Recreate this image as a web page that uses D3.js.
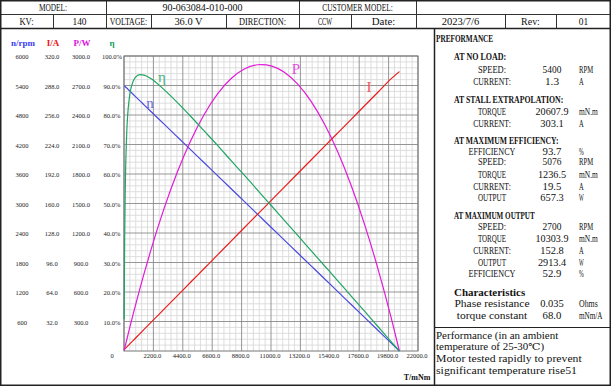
<!DOCTYPE html>
<html><head><meta charset="utf-8">
<script src="https://cdn.jsdelivr.net/npm/d3@7"></script>
<style>html,body{margin:0;padding:0;background:#fff;}svg{display:block;}</style>
</head><body><svg id="c" width="611" height="386"></svg>
<script>
// ---------------- data ----------------
const torque  = [10,50,100,200,400,700,1000,1236.5,1500,2000,3000,4000,5000,6000,7000,8000,9000,10000,10303.9,11000,12000,13000,14000,15000,16000,17000,18000,19000,20000,20607.9];
const speed   = [5397,5387,5374,5348,5295,5217,5138,5076,5007,4876,4614,4352,4090,3828,3566,3304,3042,2780,2700,2518,2256,1994,1732,1470,1207,945,683,421,159,0];
const current = [1.4,2.0,2.8,4.2,7.2,11.6,16.0,19.5,23.4,30.7,45.4,60.1,74.8,89.5,104.2,119.0,133.7,148.4,152.8,163.1,177.8,192.5,207.2,221.9,236.6,251.3,266.0,280.7,295.4,303.1];
const power   = [5.7,28,56,112,222,382,538,657,786,1021,1450,1823,2141,2405,2614,2768,2867,2911,2913,2900,2835,2714,2539,2308,2023,1683,1288,838,334,0];
const effic   = [10.8,38.5,56.4,73.4,85.8,91.6,93.4,93.7,93.5,92.4,88.6,84.2,79.5,74.6,69.7,64.6,59.6,54.5,52.9,49.4,44.3,39.2,34.0,28.9,23.8,18.6,13.5,8.3,3.1,0];

const xTicks   = [0,2200,4400,6600,8800,11000,13200,15400,17600,19800,22000];
const speedTicks = [600,1200,1800,2400,3000,3600,4200,4800,5400,6000];
const currTicks  = [32,64,96,128,160,192,224,256,288,320];
const powTicks   = [300,600,900,1200,1500,1800,2100,2400,2700,3000];
const effTicks   = [10,20,30,40,50,60,70,80,90,100];

const headRow1 = ["MODEL:","90-063084-010-000","CUSTOMER MODEL:",""];
const headRow2 = ["KV:","140","VOLTAGE:","36.0 V","DIRECTION:","CCW","Date:","2023/7/6","Rev:","01"];

const panelRows = [
  ["title","PREFORMANCE"],
  ["head","AT NO LOAD:"],
  ["row","SPEED:","5400","RPM"],
  ["row","CURRENT:","1.3","A"],
  ["head","AT STALL EXTRAPOLATION:"],
  ["row","TORQUE","20607.9","mN.m"],
  ["row","CURRENT:","303.1","A"],
  ["head","AT MAXIMUM EFFICIENCY:"],
  ["row","EFFICIENCY","93.7","%"],
  ["row","SPEED:","5076","RPM"],
  ["row","TORQUE","1236.5","mN.m"],
  ["row","CURRENT:","19.5","A"],
  ["row","OUTPUT","657.3","W"],
  ["head","AT MAXIMUM OUTPUT"],
  ["row","SPEED:","2700","RPM"],
  ["row","TORQUE","10303.9","mN.m"],
  ["row","CURRENT:","152.8","A"],
  ["row","OUTPUT","2913.4","W"],
  ["row","EFFICIENCY","52.9","%"],
  ["head","Characteristics"],
  ["row","Phase resistance","0.035","Ohms"],
  ["row","torque constant","68.0","mNm/A"]
];
const noteLines = ["Performance (in an ambient","temperature of 25-30\u2103)","Motor tested rapidly to prevent","significant temperature rise51"];

// ---------------- layout ----------------
const svg = d3.select("#c");
const SERIF = "'Liberation Serif','DejaVu Serif',serif";
const CW = 4.7; // half-width char advance
function clen(s){let n=0;for(const ch of s){n+= (ch.charCodeAt(0)>255)?2:1;}return n;}
function txt(x,y,s,o={}){
  const t = svg.append("text").attr("x",x).attr("y",y).text(s)
    .attr("font-family",o.family||SERIF).attr("font-size",o.size||9.5)
    .attr("font-weight",o.weight||"normal").attr("fill",o.fill||"#111")
    .attr("text-anchor",o.anchor||"start");
  if(o.fit){t.attr("textLength",clen(s)*(o.cw||CW)).attr("lengthAdjust","spacingAndGlyphs");}
  return t;
}
const line=(x1,y1,x2,y2,c,w)=>svg.append("line").attr("x1",x1).attr("y1",y1).attr("x2",x2).attr("y2",y2).attr("stroke",c).attr("stroke-width",w);

// header table
const r1 = [0,106,299,416,611], r2=[0,53,106,151,226,299,351,416,505,556,611];
const yA=0.5, yB=14.5, yC=28.5;
line(0,yB,611,yB,"#333",1); line(0,yC,611,yC,"#222",1.5);
r1.slice(1,-1).forEach(x=>line(x+0.5,yA,x+0.5,yB,"#333",1));
r2.slice(1,-1).forEach(x=>line(x+0.5,yB,x+0.5,yC,"#333",1));
headRow1.forEach((s,i)=>{ if(s) txt((r1[i]+r1[i+1])/2,11,s,{anchor:"middle",fit:true,size:9.5}); });
headRow2.forEach((s,i)=>{ txt((r2[i]+r2[i+1])/2,25,s,{anchor:"middle",fit:true,size:9.5}); });

// right panel
line(434.5,yC,434.5,386,"#222",1.5);
line(434,327.5,611,327.5,"#222",1);
const panelY=[38,56,69,81.5,99,111.6,123,140,151,161.7,174,186.7,197.7,215,226.7,238,250,262,273,292,303,315];
panelRows.forEach((r,i)=>{
  const y=panelY[i]+3.5;
  if(r[0]==="title") txt(436,y,r[1],{weight:"bold",fit:true,cw:5.2});
  else if(r[0]==="head") txt(454,y,r[1],{weight:"bold",fit:true,cw:4.75});
  else { txt(492,y,r[1],{anchor:"middle",fit:true});
         txt(552,y,r[2],{anchor:"middle",fit:true});
         txt(579,y,r[3],{fit:true}); }
});
const noteY=[335,346.5,358,370];
noteLines.forEach((s,i)=>txt(436,noteY[i]+3.5,s,{fit:true}));

// outer border
svg.append("rect").attr("x",0.75).attr("y",0.75).attr("width",609.5).attr("height",384.5)
  .attr("fill","none").attr("stroke","#222").attr("stroke-width",1.5);

// ---------------- chart ----------------
const L=124,R=418,T=56,B=351;
const x = d3.scaleLinear().domain([0,22000]).range([L,R]);
const yN = d3.scaleLinear().domain([0,6000]).range([B,T]);
const yI = d3.scaleLinear().domain([0,320]).range([B,T]);
const yP = d3.scaleLinear().domain([0,3000]).range([B,T]);
const yE = d3.scaleLinear().domain([0,100]).range([B,T]);

const grid = svg.append("g");
d3.range(0,22001,440).forEach(v=>{ if(v%2200!==0) grid.append("line").attr("x1",x(v)).attr("x2",x(v)).attr("y1",T).attr("y2",B).attr("stroke","#d6d6d6").attr("stroke-width",0.8);});
d3.range(0,6001,120).forEach(v=>{ if(v%600!==0) grid.append("line").attr("y1",yN(v)).attr("y2",yN(v)).attr("x1",L).attr("x2",R).attr("stroke","#d6d6d6").attr("stroke-width",0.8);});
xTicks.forEach(v=>grid.append("line").attr("x1",x(v)).attr("x2",x(v)).attr("y1",T).attr("y2",B).attr("stroke","#8a8a8a").attr("stroke-width",0.9));
speedTicks.forEach(v=>grid.append("line").attr("y1",yN(v)).attr("y2",yN(v)).attr("x1",L).attr("x2",R).attr("stroke","#8a8a8a").attr("stroke-width",0.9));
svg.append("rect").attr("x",L).attr("y",T).attr("width",R-L).attr("height",B-T).attr("fill","none").attr("stroke","#777").attr("stroke-width",1);

// axis labels
const TK={size:6.5,fill:"#222"};
xTicks.forEach((v,i)=>txt(i===0?112:x(v)-1,358,i===0?"0":d3.format(".1f")(v),{...TK,anchor:"middle"}));
speedTicks.forEach(v=>txt(22,yN(v)+3,String(v),{...TK,anchor:"middle"}));
currTicks.forEach(v=>txt(52,yI(v)+3,d3.format(".1f")(v),{...TK,anchor:"middle"}));
powTicks.forEach(v=>txt(81,yP(v)+3,d3.format(".1f")(v),{...TK,anchor:"middle"}));
effTicks.forEach(v=>txt(112,yE(v)+3,d3.format(".1f")(v)+"%",{...TK,anchor:"middle"}));
const HB={size:9,weight:"bold"};
txt(23,46,"n/rpm",{...HB,anchor:"middle",fill:"#3a3af0"});
txt(53,46,"I/A",{...HB,anchor:"middle",fill:"#f01010"});
txt(82,46,"P/W",{...HB,anchor:"middle",fill:"#e010e0"});
txt(112,46,"\u03b7",{...HB,anchor:"middle",fill:"#10a060"});
txt(417,380,"T/mNm",{size:8,weight:"bold",anchor:"middle"});

// curves
const mk = (ys,arr)=>d3.line().x((d,i)=>x(torque[i])).y((d,i)=>ys(arr[i])).curve(d3.curveMonotoneX)(arr);
svg.append("path").attr("d",mk(yN,speed)).attr("fill","none").attr("stroke","#4848e0").attr("stroke-width",1.2);
svg.append("path").attr("d",mk(yI,current)).attr("fill","none").attr("stroke","#ea1c1c").attr("stroke-width",1.2);
svg.append("path").attr("d",mk(yP,power)).attr("fill","none").attr("stroke","#e21ad8").attr("stroke-width",1.2);
svg.append("path").attr("d",mk(yE,effic)).attr("fill","none").attr("stroke","#1fa464").attr("stroke-width",1.2);

txt(162,82,"\u03b7",{size:15,fill:"#3cb47c",anchor:"middle"});
txt(150,108,"n",{size:15,fill:"#6c6ce8",anchor:"middle"});
txt(296,74,"P",{size:15,fill:"#e050e0",anchor:"middle"});
txt(369,92,"I",{size:15,fill:"#f05858",anchor:"middle"});
</script></body></html>
